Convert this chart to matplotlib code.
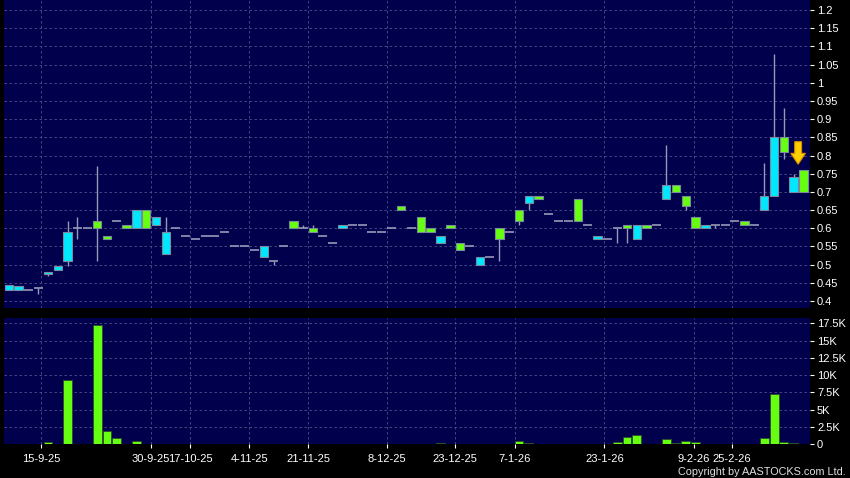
import matplotlib.pyplot as plt
from matplotlib.patches import FancyArrow

# daily prices (only trading days shown), cyan = up, green = down
opens = [0.43, 0.43, 0.43, 0.435, 0.475, 0.485, 0.51, 0.60, 0.60, 0.62,
         0.58, 0.62, 0.61, 0.60, 0.65, 0.61, 0.53, 0.60, 0.58, 0.57,
         0.58, 0.58, 0.59, 0.55, 0.55, 0.54, 0.52, 0.51, 0.55, 0.62,
         0.60, 0.60, 0.58, 0.56, 0.60, 0.61, 0.61, 0.59, 0.59, 0.60,
         0.66, 0.60, 0.63, 0.60, 0.56, 0.61, 0.56, 0.55, 0.50, 0.52,
         0.60, 0.59, 0.65, 0.67, 0.69, 0.64, 0.62, 0.62, 0.68, 0.61,
         0.57, 0.57, 0.60, 0.61, 0.57, 0.61, 0.61, 0.68, 0.72, 0.69,
         0.63, 0.60, 0.61, 0.61, 0.62, 0.62, 0.61, 0.65, 0.69, 0.85,
         0.70, 0.76]
closes = [0.445, 0.44, 0.43, 0.435, 0.48, 0.495, 0.59, 0.60, 0.60, 0.60,
          0.57, 0.62, 0.60, 0.65, 0.60, 0.63, 0.59, 0.60, 0.58, 0.57,
          0.58, 0.58, 0.59, 0.55, 0.55, 0.54, 0.55, 0.51, 0.55, 0.60,
          0.60, 0.59, 0.58, 0.56, 0.61, 0.61, 0.61, 0.59, 0.59, 0.60,
          0.65, 0.60, 0.59, 0.59, 0.58, 0.60, 0.54, 0.55, 0.52, 0.52,
          0.57, 0.59, 0.62, 0.69, 0.68, 0.64, 0.62, 0.62, 0.62, 0.61,
          0.58, 0.57, 0.60, 0.60, 0.61, 0.60, 0.61, 0.72, 0.70, 0.66,
          0.60, 0.61, 0.61, 0.61, 0.62, 0.61, 0.61, 0.69, 0.85, 0.81,
          0.74, 0.70]
highs = list(map(max, opens, closes))
lows = list(map(min, opens, closes))
# wicks
for i, h in {6: 0.62, 7: 0.63, 9: 0.77, 16: 0.63, 30: 0.61, 31: 0.61,
             67: 0.83, 77: 0.78, 78: 1.08, 79: 0.93, 80: 0.75}.items():
    highs[i] = h
for i, l in {3: 0.42, 4: 0.47, 6: 0.495, 7: 0.57, 9: 0.51, 27: 0.50,
             50: 0.51, 52: 0.61, 53: 0.65, 62: 0.56, 63: 0.56, 69: 0.65,
             72: 0.60, 79: 0.79}.items():
    lows[i] = l

volumes = [40] * len(opens)
for i, v in {4: 240, 6: 9250, 9: 17200, 10: 1900, 11: 820, 13: 380,
             44: 190, 52: 390, 53: 140, 62: 240, 63: 970, 64: 1360,
             67: 780, 68: 100, 69: 480, 70: 340, 77: 820, 78: 7220,
             79: 340, 80: 100}.items():
    volumes[i] = v

date_pos = [3.3, 14.5, 18.5, 24.5, 30.5, 38.5, 45.5, 51.6, 60.7, 69.8, 73.7]
date_labels = ["15-9-25", "30-9-25", "17-10-25", "4-11-25", "21-11-25", "8-12-25",
               "23-12-25", "7-1-26", "23-1-26", "9-2-26", "25-2-26"]
price_ticks = [0.4 + 0.05 * k for k in range(17)]
vol_ticks = [0, 2500, 5000, 7500, 10000, 12500, 15000, 17500]
vol_labels = ["0", "2.5K", "5K", "7.5K", "10K", "12.5K", "15K", "17.5K"]

NAVY = "#00004D"
CYAN = "#00E8FF"
LIME = "#66FF11"
WICK = "#9898B8"
GRID = "#50508A"

plt.rcParams['font.family'] = ['Liberation Sans', 'DejaVu Sans']
fig = plt.figure(figsize=(8.5, 4.78), dpi=100, facecolor="black")
ax = fig.add_axes([4/850, 1 - 308/478, 806/850, 308/478])
axv = fig.add_axes([4/850, 1 - 444/478, 806/850, 126/478])

for a in (ax, axv):
    a.set_facecolor(NAVY)
    for s in a.spines.values():
        s.set_visible(False)
    a.set_xlim(-0.49, 81.66)
    a.yaxis.tick_right()
    a.tick_params(axis="y", colors="white", labelsize=8, length=3, width=0.8, pad=2)
    a.set_xticks(date_pos)
    a.grid(True, color=GRID, linestyle=(0, (3, 3)), linewidth=0.6)
    a.set_axisbelow(True)

# candles
for i in range(len(opens)):
    o, c, h, l = opens[i], closes[i], highs[i], lows[i]
    ax.vlines(i, l, h, color=WICK, linewidth=1, zorder=2)
    if o == c:
        ax.hlines(o, i - 0.46, i + 0.46, color=WICK, linewidth=1.2, zorder=3)
    else:
        col = CYAN if c > o else LIME
        ax.bar(i, abs(c - o), bottom=min(o, c), width=0.86, color=col,
               edgecolor="#7A8A9A", linewidth=0.8, zorder=3)

ax.add_patch(FancyArrow(80.45, 0.838, 0, -0.062, width=0.7, head_width=1.5,
                        head_length=0.03, length_includes_head=True,
                        facecolor="#FFD000", edgecolor="#E08A00", linewidth=0.8, zorder=5))

ax.set_ylim(0.3808, 1.2275)
ax.set_yticks(price_ticks)
ax.set_yticklabels(["%g" % round(p, 2) for p in price_ticks])
ax.tick_params(axis="x", length=0, labelbottom=False)

axv.bar(range(len(volumes)), volumes, width=0.9, color=LIME,
        edgecolor="#2E4A2E", linewidth=0.6, zorder=3)
axv.set_ylim(0, 18270)
axv.set_yticks(vol_ticks)
axv.set_yticklabels(vol_labels)
axv.set_xticklabels(date_labels)
axv.tick_params(axis="x", colors="white", labelsize=8, length=3, width=0.8, pad=4)

fig.text(846/850, 1 - 472/478, "Copyright by AASTOCKS.com Ltd.", color="#E0E0E0",
         fontsize=7.8, ha="right", va="center")

plt.savefig("out.png", dpi=100, facecolor="black")
